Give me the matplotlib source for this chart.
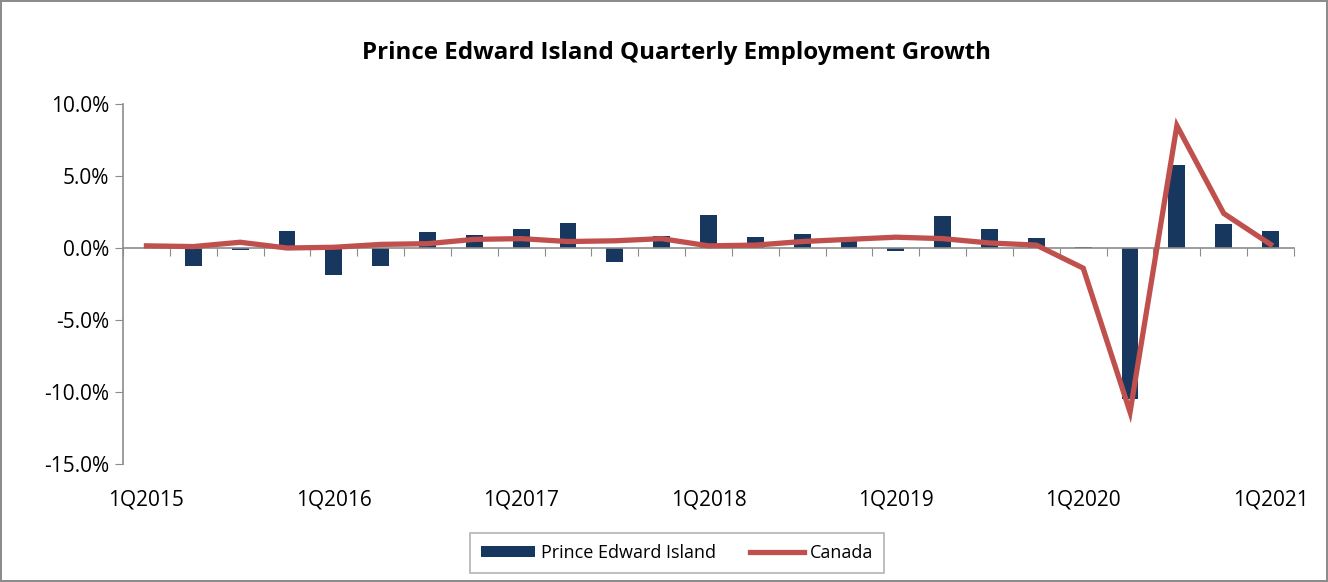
import matplotlib.pyplot as plt
import matplotlib.transforms as mtransforms
from matplotlib.ticker import FuncFormatter

plt.rcParams['font.family'] = ['Open Sans', 'DejaVu Sans']

# quarters 1Q2015 .. 1Q2021
quarters = [f"{q}Q{y}" for y in range(2015, 2022) for q in range(1, 5)][:25]
pei = [0.0, -1.25, -0.15, 1.15, -1.9, -1.25, 1.1, 0.9, 1.35, 1.75, -0.95, 0.85, 2.3,
       0.75, 1.0, 0.5, -0.2, 2.2, 1.3, 0.7, 0.05, -10.5, 5.75, 1.65, 1.15]
canada = [0.15, 0.1, 0.4, 0.0, 0.05, 0.25, 0.3, 0.6, 0.65, 0.45, 0.5, 0.65, 0.15,
          0.2, 0.45, 0.6, 0.75, 0.65, 0.35, 0.2, -1.4, -11.4, 8.5, 2.4, 0.25]
label_every = 4

fig = plt.figure(figsize=(13.28, 5.82), dpi=100)
fig.patch.set_edgecolor('#8c8c8c')
fig.patch.set_linewidth(1.5)

W, H = 1328, 582
ax = fig.add_axes([123 / W, 1 - 464 / H, (1294 - 123) / W, (464 - 104) / H])

x = list(range(len(quarters)))
bars = ax.bar(x, [v / 100 for v in pei], width=0.36, color='#17375E',
              label='Prince Edward Island', zorder=2)
line, = ax.plot(x, [v / 100 for v in canada], color='#C0504D', linewidth=3.8,
                solid_joinstyle='miter', label='Canada', zorder=3)

ax.set_xlim(-0.5, len(quarters) - 0.5)
ax.set_ylim(-0.15, 0.10)
ax.set_yticks([-0.15, -0.10, -0.05, 0.0, 0.05, 0.10])
ax.yaxis.set_major_formatter(FuncFormatter(lambda v, p: f"{v * 100:.1f}%"))
ax.tick_params(axis='y', labelsize=15, length=6, color='#8c8c8c', pad=4)

# category axis crossing at zero, tick marks between categories
ax.spines['bottom'].set_position(('data', 0))
ax.spines['bottom'].set_color('#8c8c8c')
ax.spines['left'].set_color('#8c8c8c')
ax.spines['bottom'].set_linewidth(1.2)
ax.spines['left'].set_linewidth(1.2)
ax.spines['top'].set_visible(False)
ax.spines['right'].set_visible(False)
ax.set_xticks([i - 0.5 for i in range(len(quarters) + 1)])
ax.set_xticklabels([])
ax.tick_params(axis='x', length=6, color='#8c8c8c', direction='out')

trans = mtransforms.blended_transform_factory(ax.transData, ax.transAxes)
for i in range(0, len(quarters), label_every):
    ax.text(i, -0.10, quarters[i], transform=trans, ha='center', va='center',
            fontsize=15)

fig.text(677 / W, 1 - 53 / H, "Prince Edward Island Quarterly Employment Growth",
         ha='center', va='center', fontsize=17.4, fontweight='bold')

leg = fig.legend([bars, line], ['Prince Edward Island', 'Canada'],
                 loc='center', bbox_to_anchor=(677 / W, 1 - 553 / H), ncol=2,
                 frameon=True, fancybox=False, edgecolor='#a0a0a0', fontsize=13,
                 handlelength=3.0, handleheight=0.6, handletextpad=0.3,
                 columnspacing=1.9, borderpad=0.6)
leg.get_frame().set_linewidth(1.2)

fig.savefig('out.png', dpi=100)
